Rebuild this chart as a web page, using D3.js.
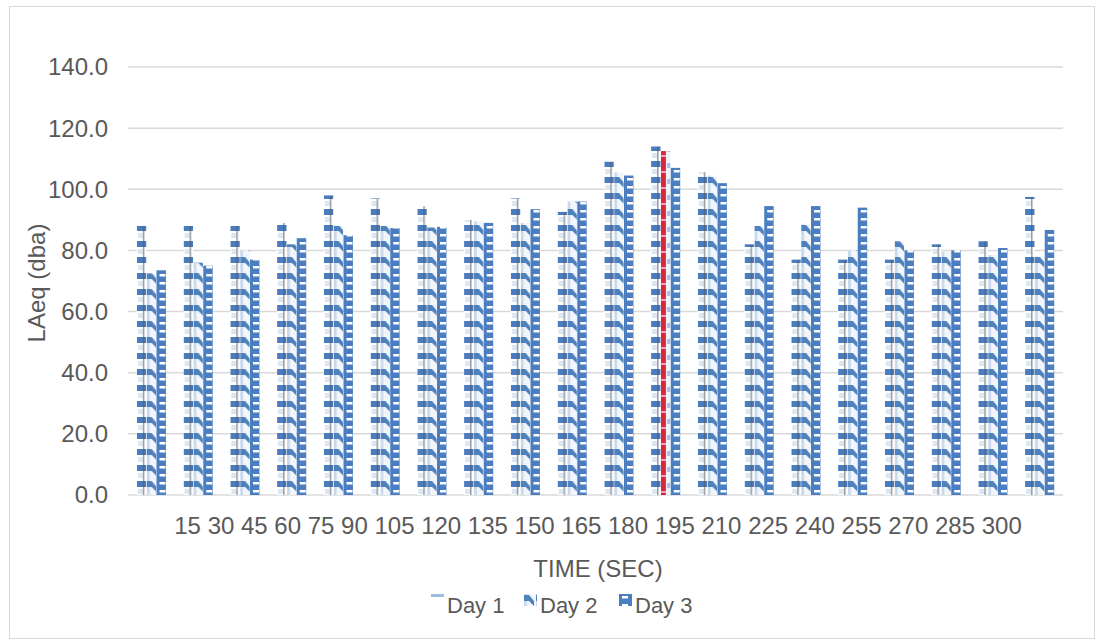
<!DOCTYPE html>
<html>
<head>
<meta charset="utf-8">
<script src="https://cdn.jsdelivr.net/npm/d3@7"></script>
<style>
  body { margin: 0; background: #fff; }
  text { font-family: "Liberation Sans", Arial, sans-serif; fill: #595959; }
</style>
</head>
<body>
<svg id="chart"></svg>
<script>
// time steps (sec)
const times = [15, 30, 45, 60, 75, 90, 105, 120, 135, 150, 165, 180, 195, 210, 225, 240, 255, 270, 285, 300];
const seriesNames = ["Day 1", "Day 2", "Day 3"];

const day1 = [88, 88, 88, 89, 98, 97, 94.5, 90, 97, 92.6, 109, 114, 105.6, 82, 77, 77, 77, 82, 83, 97.5];
const day2 = [72.5, 76, 80, 82, 88, 88, 87.5, 89.5, 89, 96, 105.5, 112.5, 104.5, 88, 88.5, 80, 83, 79.5, 78.5, 78];
const day3 = [73.5, 75, 77, 84, 85, 87.3, 87.7, 89, 93.5, 96, 104.5, 107, 102, 94.5, 94.5, 94, 80, 80, 80.8, 86.7];

const yTicks = [0, 20, 40, 60, 80, 100, 120, 140];

const width = 1096;
const height = 641;

const svg = d3.select("#chart")
    .attr("width", width)
    .attr("height", height);

// chart border
svg.append("rect")
    .attr("x", 9.5).attr("y", 6.5)
    .attr("width", width - 11).attr("height", height - 9)
    .attr("fill", "#fff")
    .attr("stroke", "#d9d9d9");

const x = d3.scaleBand()
    .domain(d3.range(times.length))
    .range([128, 1063])
    .paddingInner(0.36)
    .paddingOuter(0.18);

const xs = d3.scaleBand()
    .domain(seriesNames)
    .range([0, x.bandwidth()])
    .padding(0.04);

const y = d3.scaleLinear()
    .domain([0, 140])
    .range([495, 67]);

// patterns
const defs = svg.append("defs");

const p1 = defs.append("pattern").attr("id", "pat1")
    .attr("patternUnits", "userSpaceOnUse").attr("width", 12).attr("height", 16);
p1.append("rect").attr("width", 12).attr("height", 16).attr("fill", "#fff");
p1.append("rect").attr("x", 0).attr("y", 1).attr("width", 10).attr("height", 6).attr("fill", "#4a7dbf");
p1.append("rect").attr("x", 6).attr("y", 0).attr("width", 1.5).attr("height", 16).attr("fill", "#555")
    .attr("opacity", 0.6);
p1.append("rect").attr("x", 1).attr("y", 9).attr("width", 5).attr("height", 5).attr("fill", "#dbe6f3");

const p2 = defs.append("pattern").attr("id", "pat2")
    .attr("patternUnits", "userSpaceOnUse").attr("width", 12).attr("height", 16);
p2.append("rect").attr("width", 12).attr("height", 16).attr("fill", "#f2f6fb");
p2.append("rect").attr("x", 0).attr("y", 0).attr("width", 3).attr("height", 16).attr("fill", "#c9d9ee");
p2.append("path").attr("d", "M0,1 L5,1 L10,7 L10,12 L5,7 L0,7 Z").attr("fill", "#4f81bd");

const p3 = defs.append("pattern").attr("id", "pat3")
    .attr("patternUnits", "userSpaceOnUse").attr("width", 12).attr("height", 8);
p3.append("rect").attr("width", 12).attr("height", 8).attr("fill", "#4a7ec0");
p3.append("rect").attr("x", 3).attr("y", 2).attr("width", 6).attr("height", 2.5).attr("fill", "#fff");

const p4 = defs.append("pattern").attr("id", "pat4")
    .attr("patternUnits", "userSpaceOnUse").attr("width", 12).attr("height", 16);
p4.append("rect").attr("width", 12).attr("height", 16).attr("fill", "#eef3fa");
p4.append("rect").attr("x", 0).attr("y", 0).attr("width", 5).attr("height", 16).attr("fill", "#d7263d");
p4.append("rect").attr("x", 0).attr("y", 11).attr("width", 5).attr("height", 2).attr("fill", "#f7a1b6");
p4.append("rect").attr("x", 6).attr("y", 3).attr("width", 4).attr("height", 5).attr("fill", "#a9c3e4");

const patterns = ["url(#pat1)", "url(#pat2)", "url(#pat3)"];

// gridlines
svg.append("g")
    .selectAll("line")
    .data(yTicks)
    .join("line")
    .attr("x1", 128).attr("x2", 1063)
    .attr("y1", d => y(d)).attr("y2", d => y(d))
    .attr("stroke", "#d9d9d9")
    .attr("stroke-width", 1.5);

svg.append("g")
    .selectAll("text")
    .data(yTicks)
    .join("text")
    .attr("x", 108)
    .attr("y", d => y(d))
    .attr("dy", "0.35em")
    .attr("text-anchor", "end")
    .attr("font-size", "24px")
    .text(d => d.toFixed(1));

// bars
const rows = times.map((t, i) => ({ i, values: [day1[i], day2[i], day3[i]] }));

const group = svg.append("g")
    .selectAll("g")
    .data(rows)
    .join("g");

group.selectAll("g")
    .data(d => d.values.map((v, k) => ({ i: d.i, k, v })))
    .join("g")
    .attr("transform", d => `translate(${x(d.i) + xs(seriesNames[d.k])},0)`)
    .append("rect")
    .attr("x", 0)
    .attr("y", d => y(d.v))
    .attr("width", xs.bandwidth())
    .attr("height", d => y(0) - y(d.v))
    .attr("fill", d => (d.k === 1 && d.i === 11) ? "url(#pat4)" : patterns[d.k]);

// x labels (rendered as one run of text, as in the source)
svg.append("text")
    .attr("x", 598)
    .attr("y", 534)
    .attr("text-anchor", "middle")
    .attr("font-size", "24px")
    .text(times.join(" "));

svg.append("text")
    .attr("x", 598)
    .attr("y", 577)
    .attr("text-anchor", "middle")
    .attr("font-size", "24px")
    .text("TIME (SEC)");

svg.append("text")
    .attr("transform", "translate(45,283) rotate(-90)")
    .attr("text-anchor", "middle")
    .attr("font-size", "24px")
    .text("LAeq (dba)");

// legend
const legendX = [431, 524, 619];
const legend = svg.append("g")
    .selectAll("g")
    .data(seriesNames)
    .join("g")
    .attr("transform", (d, i) => `translate(${legendX[i]},594)`);

legend.append("rect")
    .attr("width", 13)
    .attr("height", (d, i) => i === 0 ? 3 : 12)
    .attr("fill", (d, i) => i === 0 ? "#9fbce0" : patterns[i]);

legend.append("text")
    .attr("x", 16)
    .attr("y", 19)
    .attr("font-size", "22px")
    .text(d => d);
</script>
</body>
</html>
